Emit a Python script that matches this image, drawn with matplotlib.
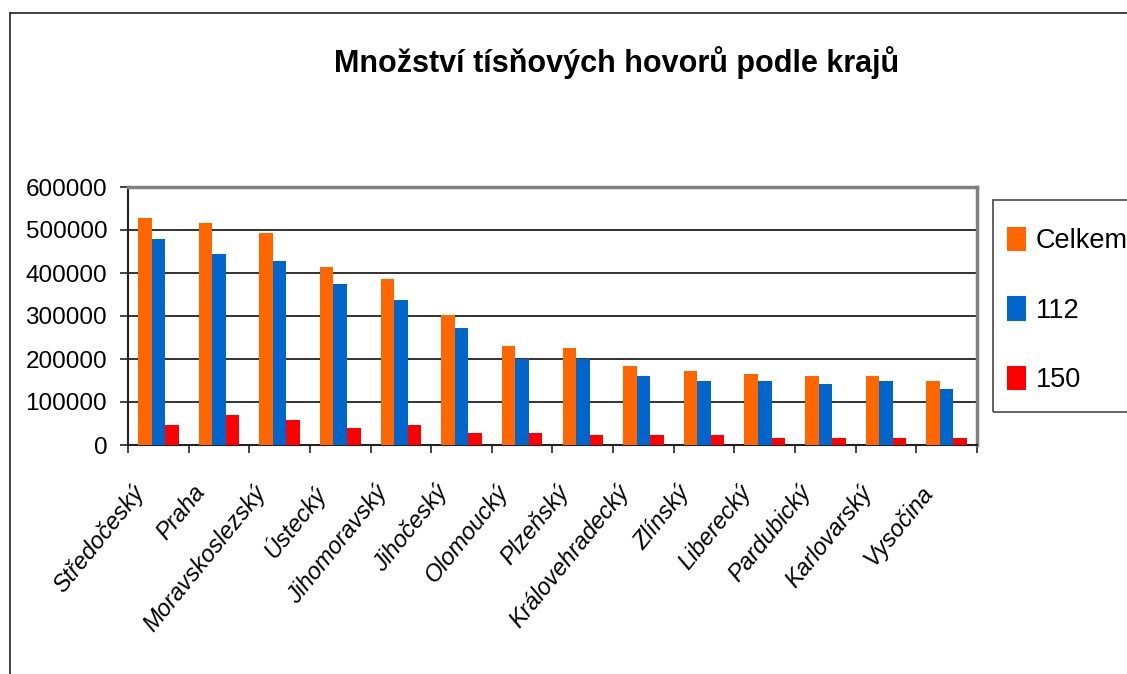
import matplotlib
matplotlib.use("Agg")
import matplotlib.pyplot as plt
import matplotlib.transforms as mtransforms
from matplotlib.patches import Patch, Rectangle
import numpy as np

plt.rcParams['font.family'] = ['Liberation Sans', 'DejaVu Sans']

title = "Množství tísňových hovorů podle krajů"
regions = ["Středočeský", "Praha", "Moravskoslezský", "Ústecký", "Jihomoravský",
           "Jihočeský", "Olomoucký", "Plzeňský", "Královehradecký", "Zlínský",
           "Liberecký", "Pardubický", "Karlovarský", "Vysočina"]
series_names = ["Celkem", "112", "150"]
celkem = [528000, 516000, 493000, 414000, 386000, 302000, 230000, 226000, 184000,
          172000, 165000, 160000, 160000, 149000]
s112 = [479000, 444000, 428000, 374000, 337000, 272000, 200000, 200000, 160000,
        149000, 149000, 142000, 149000, 130000]
s150 = [46500, 70000, 58000, 40000, 46500, 28000, 28000, 23000, 23000, 23000,
        16000, 16000, 16000, 16000]
yticks = [0, 100000, 200000, 300000, 400000, 500000, 600000]
colors = ["#FF6600", "#0066CC", "#FF0000"]

W, H = 1127, 674
fig = plt.figure(figsize=(W / 100, H / 100), dpi=100)
ax = fig.add_axes([128 / W, 1 - 445 / H, (977 - 128) / W, (445 - 187) / H])

x = np.arange(len(regions))
bw = 0.223
for i, (vals, c) in enumerate(zip([celkem, s112, s150], colors)):
    ax.bar(x + (i - 1) * bw, vals, width=bw, color=c, zorder=3, label=series_names[i])

ax.set_xlim(-0.5, len(regions) - 0.5)
ax.set_ylim(0, 600000)
ax.set_yticks(yticks)
ax.set_yticklabels([str(v) for v in yticks], fontsize=17.5)
for v in yticks[1:-1]:
    ax.axhline(v, color="#222222", lw=1.3, zorder=1)

ax.set_xticks(np.arange(len(regions) + 1) - 0.5, minor=True)
ax.set_xticks(x)
ax.set_xticklabels(regions, fontsize=17, style="italic", rotation=51, ha="right", va="top")
ax.tick_params(axis="x", which="major", length=0, pad=0)
ax.tick_params(axis="x", which="minor", length=6, width=1.2, color="#222222", direction="out")
ax.tick_params(axis="y", length=6, width=1.2, color="#222222", pad=9)
offset = mtransforms.ScaledTranslation(-0.09, -0.36, fig.dpi_scale_trans)
for lab in ax.get_xticklabels():
    lab.set_transform(lab.get_transform() + offset)

for s in ["top", "right"]:
    ax.spines[s].set_color("#808080")
    ax.spines[s].set_linewidth(2.5)
for s in ["left", "bottom"]:
    ax.spines[s].set_color("#222222")
    ax.spines[s].set_linewidth(1.5)

fig.text(617 / W, 1 - 63 / H, title, ha="center", va="center", fontsize=22, fontweight="bold")

# legend box
fig.add_artist(Rectangle((993 / W, 1 - 412 / H), 0.2, (412 - 200) / H, fill=False,
                         edgecolor="#555555", lw=1.3, transform=fig.transFigure))
handles = [Patch(facecolor=c, edgecolor="none") for c in colors]
leg = fig.legend(handles, series_names, loc="center left",
                 bbox_to_anchor=(1007 / W, 1 - 310 / H), borderaxespad=0,
                 fontsize=19.5, frameon=False, handlelength=0.7,
                 handleheight=1.0, handletextpad=0.35, labelspacing=1.55, borderpad=0)

# outer chart frame
fig.add_artist(plt.Line2D([10 / W, 10 / W], [0, 1 - 13 / H], color="#333333", lw=1.3,
                          transform=fig.transFigure))
fig.add_artist(plt.Line2D([10 / W, 1], [1 - 13 / H, 1 - 13 / H], color="#333333", lw=1.3,
                          transform=fig.transFigure))

fig.savefig("out.png", dpi=100)
